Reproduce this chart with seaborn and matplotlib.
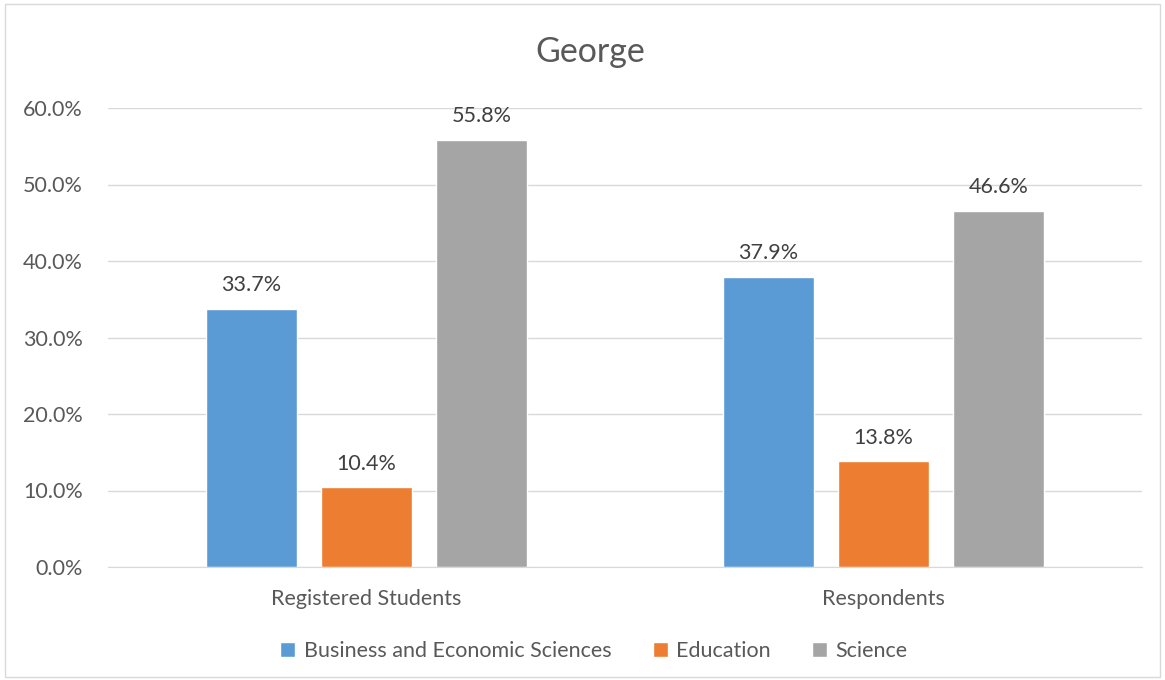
import pandas as pd
import matplotlib.pyplot as plt
import seaborn as sns
from matplotlib.ticker import PercentFormatter
from matplotlib.patches import Rectangle

# data
groups = ['Registered Students', 'Respondents']
faculties = ['Business and Economic Sciences', 'Education', 'Science']
registered = [33.7, 10.4, 55.8]
respondents = [37.9, 13.8, 46.6]
colors = ['#5B9BD5', '#ED7D31', '#A5A5A5']

rows = []
for i, fac in enumerate(faculties):
    rows.append({'group': groups[0], 'faculty': fac, 'value': registered[i]})
    rows.append({'group': groups[1], 'faculty': fac, 'value': respondents[i]})
df = pd.DataFrame(rows)

sns.set_style('white')
plt.rcParams['font.family'] = ['Lato', 'DejaVu Sans']
text_col = '#595959'
fs = 15.5

fig = plt.figure(figsize=(11.65, 6.8), dpi=100)
ax = fig.add_axes([108 / 1165, 113 / 680, 1034 / 1165, 459 / 680])

sns.barplot(data=df, x='group', y='value', hue='faculty', order=groups,
            hue_order=faculties, palette=colors, width=0.667, gap=0.21,
            saturation=1, ax=ax, legend=True)

for cont in ax.containers:
    ax.bar_label(cont, fmt='%.1f%%', padding=10, fontsize=fs, color='#404040')

ax.set_ylim(0, 60)
ax.set_yticks(range(0, 61, 10))
ax.yaxis.set_major_formatter(PercentFormatter(decimals=1))
ax.yaxis.grid(True, color='#D9D9D9', linewidth=1)
ax.set_axisbelow(True)
for side in ['top', 'right', 'left']:
    ax.spines[side].set_visible(False)
ax.spines['bottom'].set_color('#D9D9D9')
ax.tick_params(axis='both', labelsize=fs, colors=text_col, length=0)
ax.tick_params(axis='x', pad=16)
ax.tick_params(axis='y', pad=18)
ax.set_xlabel('')
ax.set_ylabel('')

fig.text(590 / 1165, 1 - 52 / 680, 'George', ha='center', va='center',
         fontsize=24.5, color=text_col)

handles, labels = ax.get_legend_handles_labels()
ax.legend_.remove()
fig.legend(handles, labels, loc='center', bbox_to_anchor=(594 / 1165, 1 - 651 / 680),
           ncol=3, frameon=False, fontsize=fs, labelcolor=text_col,
           handlelength=0.7, handleheight=0.7, handletextpad=0.4, columnspacing=1.9)

fig.patches.append(Rectangle((0.004, 0.004), 0.992, 0.99, transform=fig.transFigure,
                             fill=False, edgecolor='#D9D9D9', linewidth=1))

plt.savefig('out.png', dpi=100)
